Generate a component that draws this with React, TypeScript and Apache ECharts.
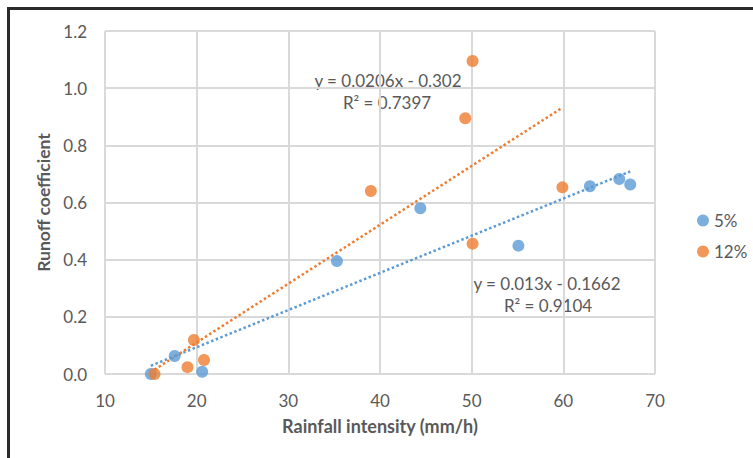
import React, { useEffect, useRef } from "react";
import * as echarts from "echarts";

const seriesNames = ["5%", "12%"];
const blueX = [15.0, 17.6, 20.6, 35.3, 44.4, 55.1, 62.9, 66.1, 67.3];
const blueY = [0.0, 0.063, 0.008, 0.395, 0.58, 0.449, 0.657, 0.682, 0.663];
const orangeX = [15.4, 19.0, 19.7, 20.8, 39.0, 49.3, 50.1, 50.1, 59.9];
const orangeY = [0.0, 0.024, 0.119, 0.049, 0.64, 0.895, 1.095, 0.456, 0.653];
const blueFit = { slope: 0.013, intercept: -0.1662, eq: "y = 0.013x - 0.1662", r2: "R² = 0.9104" };
const orangeFit = { slope: 0.0206, intercept: -0.302, eq: "y = 0.0206x - 0.302", r2: "R² = 0.7397" };
const xTicks = { min: 10, max: 70, interval: 10 };
const yTicks = { min: 0, max: 1.2, interval: 0.2 };

const BLUE = "#5B9BD5";
const ORANGE = "#ED7D31";
const TXT = "#595959";
const FONT = "Lato";

function fitLine(xs: number[], fit: { slope: number; intercept: number }) {
  const lo = Math.min(...xs);
  const hi = Math.max(...xs);
  return [
    [lo, fit.slope * lo + fit.intercept],
    [hi, fit.slope * hi + fit.intercept],
  ];
}

export default function App() {
  const ref = useRef<HTMLDivElement>(null);
  useEffect(() => {
    if (!ref.current) return;
    const chart = echarts.init(ref.current, undefined, { renderer: "svg" });
    const zip = (xs: number[], ys: number[]) => xs.map((x, i) => [x, ys[i]]);
    const ann = (x: number, y: number, text: string) => ({
      type: "text",
      x,
      y,
      style: { text, fill: TXT, fontSize: 17, fontFamily: FONT, align: "center", verticalAlign: "middle" },
    });
    chart.setOption({
      animation: false,
      textStyle: { fontFamily: FONT },
      grid: { left: 105, top: 31, width: 550, height: 343, containLabel: false },
      xAxis: {
        type: "value",
        min: xTicks.min,
        max: xTicks.max,
        interval: xTicks.interval,
        name: "Rainfall intensity (mm/h)",
        nameLocation: "middle",
        nameGap: 43,
        nameTextStyle: { color: TXT, fontSize: 18, fontWeight: "bold", fontFamily: FONT },
        axisLine: { show: false },
        axisTick: { show: false },
        axisLabel: { color: TXT, fontSize: 17, margin: 18, fontFamily: FONT },
        splitLine: { show: true, lineStyle: { color: "#d9d9d9", width: 2 } },
      },
      yAxis: {
        type: "value",
        min: yTicks.min,
        max: yTicks.max,
        interval: yTicks.interval,
        name: "Runoff coefficient",
        nameLocation: "middle",
        nameGap: 49,
        nameTextStyle: { color: TXT, fontSize: 17.5, fontWeight: "bold", fontFamily: FONT },
        axisLine: { show: false },
        axisTick: { show: false },
        axisLabel: {
          color: TXT,
          fontSize: 17,
          margin: 18,
          fontFamily: FONT,
          formatter: (v: number) => v.toFixed(1),
        },
        splitLine: { show: true, lineStyle: { color: "#d9d9d9", width: 2 } },
      },
      legend: {
        orient: "vertical",
        left: 692,
        top: 207,
        itemGap: 14,
        itemWidth: 12,
        itemHeight: 12,
        icon: "circle",
        data: seriesNames,
        textStyle: { color: TXT, fontSize: 17, fontFamily: FONT },
      },
      series: [
        {
          name: "5% fit",
          type: "line",
          data: fitLine(blueX, blueFit),
          symbol: "none",
          lineStyle: { color: BLUE, type: "dotted", width: 2.5 },
          z: 2,
        },
        {
          name: "12% fit",
          type: "line",
          data: fitLine(orangeX, orangeFit),
          symbol: "none",
          lineStyle: { color: ORANGE, type: "dotted", width: 2.5 },
          z: 2,
        },
        {
          name: seriesNames[0],
          type: "scatter",
          data: zip(blueX, blueY),
          symbolSize: 12,
          itemStyle: { color: BLUE },
          z: 3,
        },
        {
          name: seriesNames[1],
          type: "scatter",
          data: zip(orangeX, orangeY),
          symbolSize: 12,
          itemStyle: { color: ORANGE },
          z: 3,
        },
      ],
      graphic: [
        ann(388, 80, orangeFit.eq),
        ann(387, 102, orangeFit.r2),
        ann(547, 283, blueFit.eq),
        ann(548, 305, blueFit.r2),
      ],
    });
    return () => chart.dispose();
  }, []);

  return (
    <div style={{ position: "fixed", left: 0, top: 0, width: 753, height: 458, background: "#fff", overflow: "hidden" }}>
      <div
        style={{
          position: "absolute",
          left: 7,
          top: 7,
          width: 780,
          height: 490,
          border: "3px solid #2b2b2b",
          boxSizing: "border-box",
        }}
      />
      <div ref={ref} style={{ position: "absolute", left: 0, top: 0, width: 753, height: 458 }} />
    </div>
  );
}
